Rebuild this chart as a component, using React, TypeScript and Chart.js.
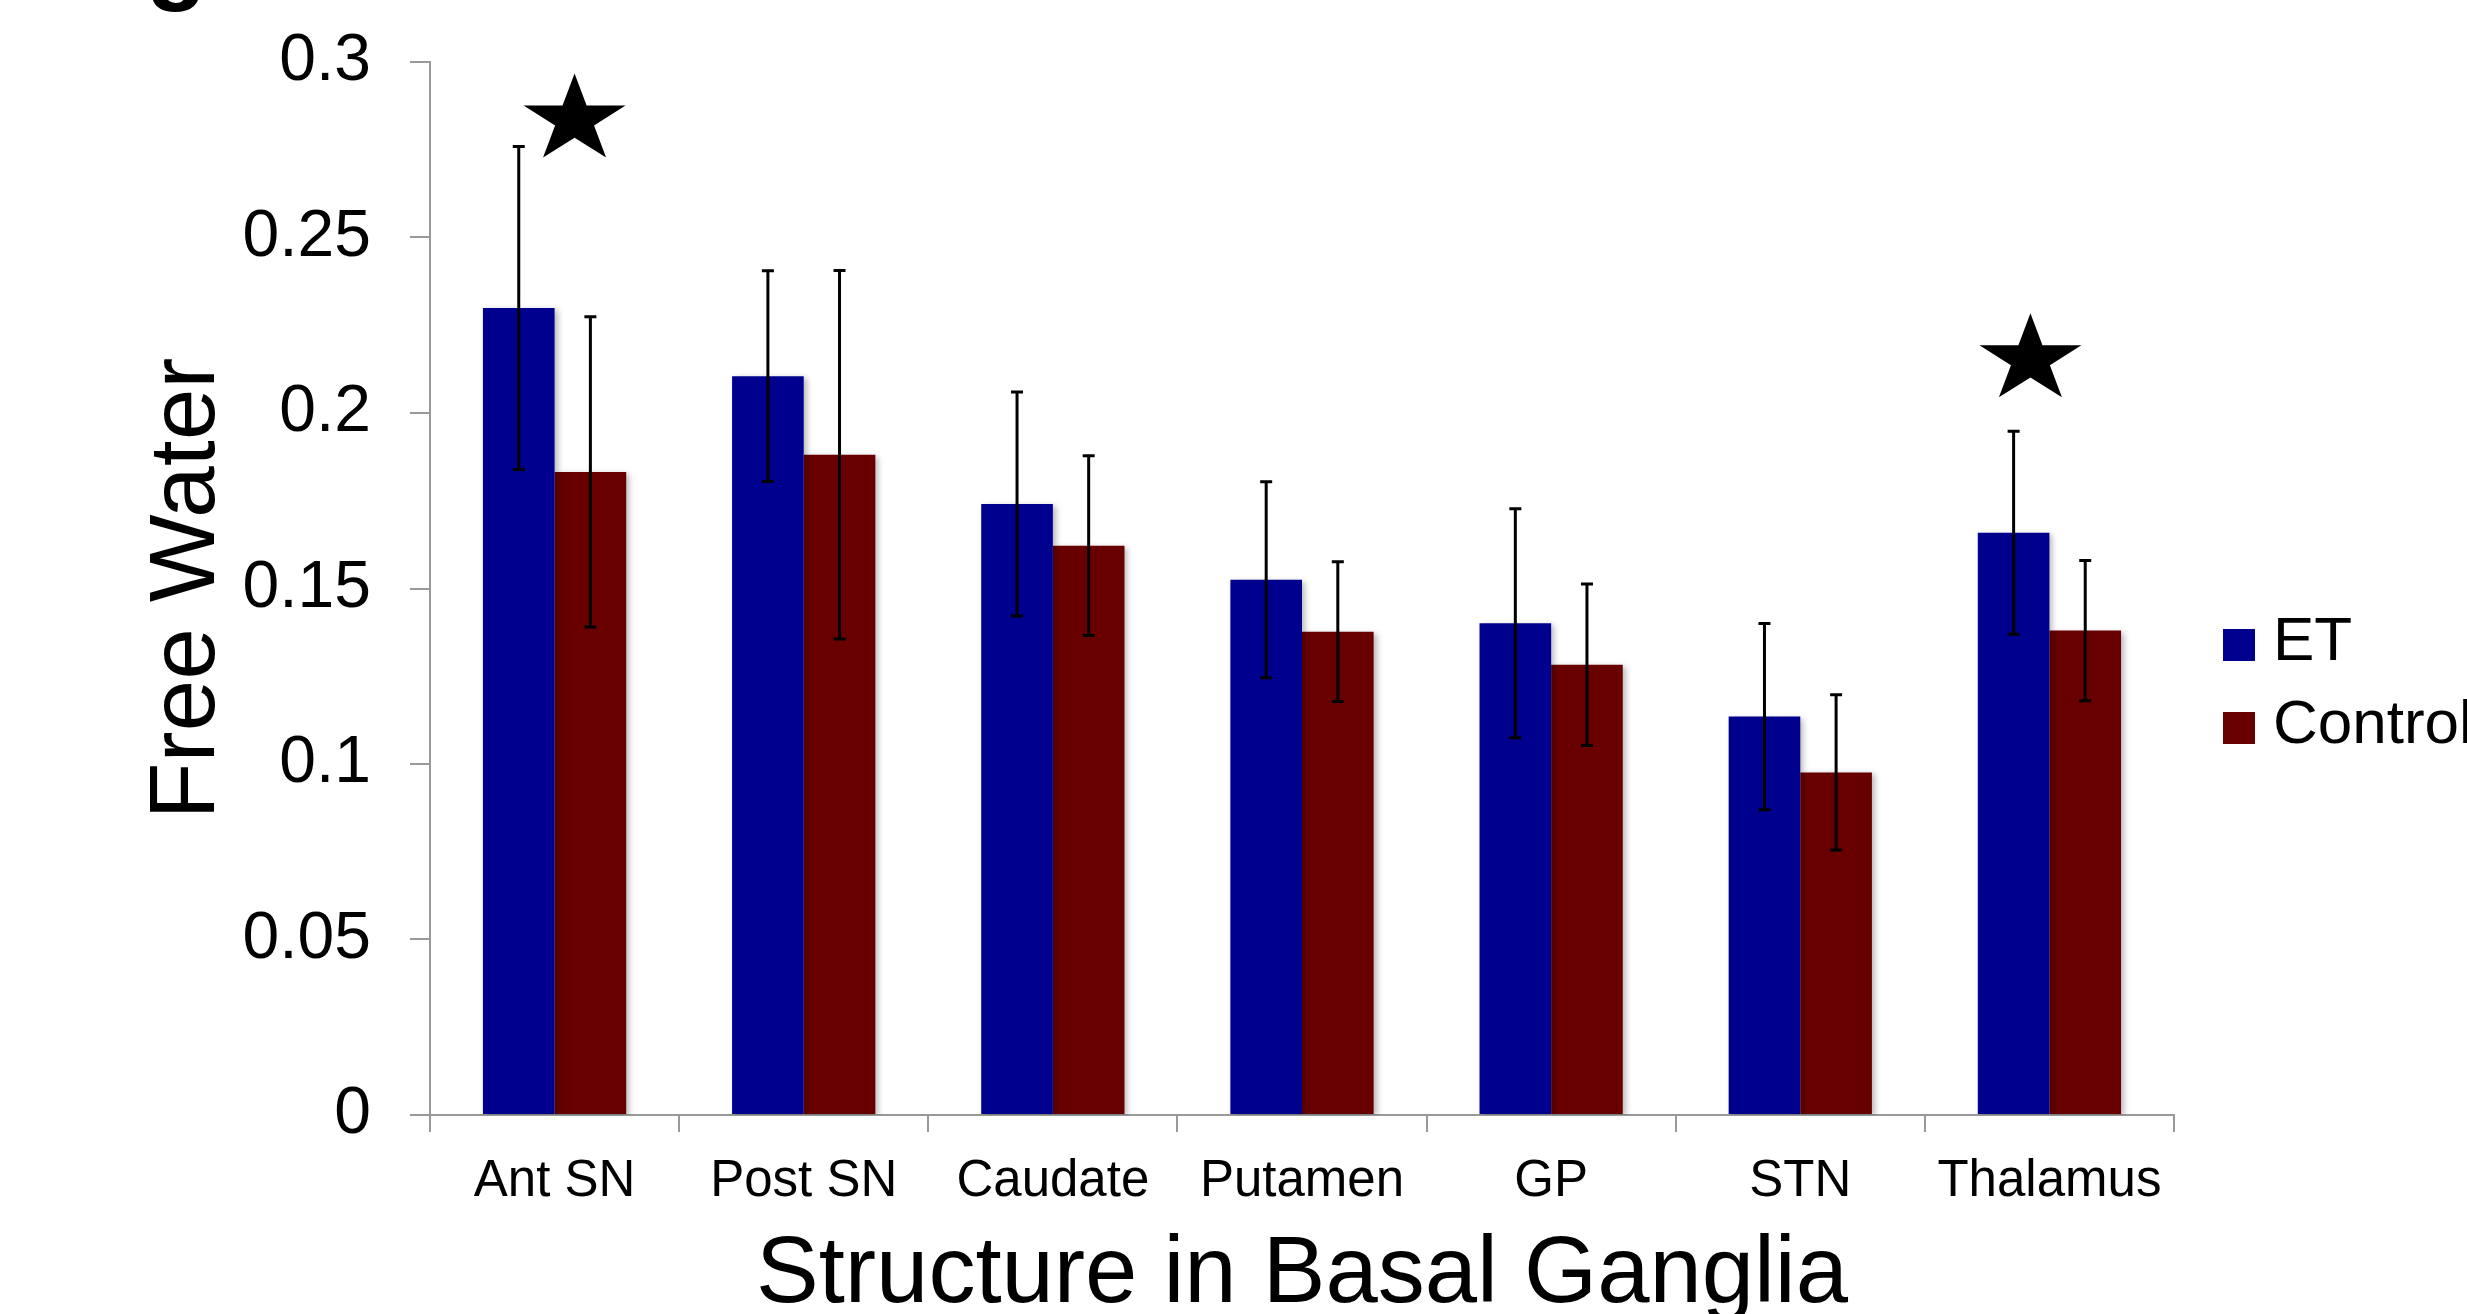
import React, { useEffect, useRef } from 'react';
import { Chart, registerables } from 'chart.js';

Chart.register(...registerables);

const categories = ['Ant SN', 'Post SN', 'Caudate', 'Putamen', 'GP', 'STN', 'Thalamus'];
const seriesLabels = ['ET', 'Control'];
const etMeans = [0.2299, 0.2105, 0.1741, 0.1525, 0.1401, 0.1135, 0.1659];
const etErrors = [0.046, 0.030, 0.0319, 0.0279, 0.0326, 0.0265, 0.0289];
const controlMeans = [0.1832, 0.1881, 0.1622, 0.1377, 0.1283, 0.0976, 0.138];
const controlErrors = [0.0442, 0.0525, 0.0256, 0.0199, 0.023, 0.0221, 0.020];
const yTickValues = [0, 0.05, 0.1, 0.15, 0.2, 0.25, 0.3];
const yTickLabels = ['0', '0.05', '0.1', '0.15', '0.2', '0.25', '0.3'];
const starCategories = ['Ant SN', 'Thalamus'];
const starValues = [0.2835, 0.2152];
const panelLetter = 'g';

const FONT = '"Liberation Sans", Arial, Helvetica, sans-serif';
const ET_COLOR = '#00008e';
const CONTROL_COLOR = '#680000';
const AXIS_COLOR = '#999999';

const shadowPlugin = {
  id: 'barShadow',
  beforeDatasetsDraw(chart: any) {
    const ctx = chart.ctx;
    ctx.save();
    ctx.shadowColor = 'rgba(0,0,0,0.28)';
    ctx.shadowBlur = 6;
    ctx.shadowOffsetX = 3;
    ctx.shadowOffsetY = 2;
  },
  afterDatasetsDraw(chart: any) {
    chart.ctx.restore();
  },
};

const errorBarPlugin = {
  id: 'errorBars',
  afterDatasetsDraw(chart: any, _args: any, opts: any) {
    const ctx = chart.ctx;
    const yScale = chart.scales.y;
    const errs = [etErrors, controlErrors];
    ctx.save();
    ctx.strokeStyle = '#000';
    ctx.lineWidth = opts.lineWidth || 3;
    const cap = opts.capHalf || 6;
    chart.data.datasets.forEach((ds: any, di: number) => {
      const meta = chart.getDatasetMeta(di);
      meta.data.forEach((bar: any, i: number) => {
        const v = ds.data[i];
        const e = errs[di][i];
        const x = bar.x;
        const yTop = yScale.getPixelForValue(v + e);
        const yBot = yScale.getPixelForValue(v - e);
        ctx.beginPath();
        ctx.moveTo(x, yTop);
        ctx.lineTo(x, yBot);
        ctx.moveTo(x - cap, yTop);
        ctx.lineTo(x + cap, yTop);
        ctx.moveTo(x - cap, yBot);
        ctx.lineTo(x + cap, yBot);
        ctx.stroke();
      });
    });
    ctx.restore();
  },
};

const starPlugin = {
  id: 'stars',
  afterDatasetsDraw(chart: any, _args: any, opts: any) {
    const ctx = chart.ctx;
    const xScale = chart.scales.x;
    const yScale = chart.scales.y;
    const rx = opts.rx;
    const ry = opts.ry;
    ctx.save();
    ctx.fillStyle = '#000';
    starCategories.forEach((cat, k) => {
      const idx = categories.indexOf(cat);
      const cx = xScale.getPixelForValue(idx) + opts.dx[k];
      const cy = yScale.getPixelForValue(starValues[k]);
      ctx.beginPath();
      for (let i = 0; i < 10; i++) {
        const a = -Math.PI / 2 + (i * Math.PI) / 5;
        const r = i % 2 === 0 ? 1 : 0.382;
        const px = cx + rx * r * Math.cos(a);
        const py = cy + ry * r * Math.sin(a);
        if (i === 0) ctx.moveTo(px, py);
        else ctx.lineTo(px, py);
      }
      ctx.closePath();
      ctx.fill();
    });
    ctx.restore();
  },
};

const legendPlugin = {
  id: 'customLegend',
  afterDraw(chart: any, _args: any, opts: any) {
    const ctx = chart.ctx;
    ctx.save();
    ctx.font = `${opts.fontSize}px ${FONT}`;
    ctx.textBaseline = 'middle';
    ctx.textAlign = 'left';
    chart.data.datasets.forEach((ds: any, i: number) => {
      const cy = opts.y + i * opts.spacing;
      ctx.fillStyle = ds.backgroundColor;
      ctx.fillRect(opts.x, cy - opts.box / 2, opts.box, opts.box);
      ctx.fillStyle = '#000';
      ctx.fillText(ds.label, opts.textX, cy - 2);
    });
    ctx.restore();
  },
};

const panelPlugin = {
  id: 'panelLetter',
  afterDraw(chart: any, _args: any, opts: any) {
    const ctx = chart.ctx;
    ctx.save();
    ctx.font = `bold ${opts.fontSize}px ${FONT}`;
    ctx.textBaseline = 'alphabetic';
    ctx.textAlign = 'left';
    ctx.fillStyle = '#000';
    ctx.fillText(panelLetter, opts.x, opts.y);
    ctx.restore();
  },
};

export default function App() {
  const canvasRef = useRef<HTMLCanvasElement | null>(null);

  useEffect(() => {
    document.body.style.margin = '0';
    const canvas = canvasRef.current;
    if (!canvas) return;
    const chart = new Chart(canvas, {
      type: 'bar',
      data: {
        labels: categories,
        datasets: [
          {
            label: seriesLabels[0],
            data: etMeans,
            backgroundColor: ET_COLOR,
            borderWidth: 0,
            categoryPercentage: 0.575,
            barPercentage: 1,
          },
          {
            label: seriesLabels[1],
            data: controlMeans,
            backgroundColor: CONTROL_COLOR,
            borderWidth: 0,
            categoryPercentage: 0.575,
            barPercentage: 1,
          },
        ],
      },
      options: {
        animation: false,
        responsive: false,
        devicePixelRatio: 1,
        layout: { padding: { top: 62, right: 293, left: 0, bottom: 0 } },
        plugins: {
          legend: { display: false },
          tooltip: { enabled: false },
          title: { display: false },
          errorBars: { lineWidth: 3, capHalf: 6 },
          stars: { rx: 53.6, ry: 46.5, dx: [20, -19] },
          customLegend: { x: 2223, textX: 2273, y: 645, spacing: 83, box: 32, fontSize: 62 },
          panelLetter: { x: 146, y: -9, fontSize: 100 },
        } as any,
        scales: {
          x: {
            type: 'category',
            offset: true,
            afterFit(scale: any) {
              scale.height = 199;
            },
            grid: {
              display: true,
              offset: true,
              drawOnChartArea: false,
              drawTicks: true,
              tickLength: 17,
              color: AXIS_COLOR,
              lineWidth: 2,
            },
            border: { display: true, color: AXIS_COLOR, width: 2 },
            ticks: {
              color: '#000',
              font: { family: FONT, size: 51 },
              padding: 19,
              maxRotation: 0,
              minRotation: 0,
              autoSkip: false,
            },
            title: {
              display: true,
              text: 'Structure in Basal Ganglia',
              color: '#000',
              font: { family: FONT, size: 94, lineHeight: 0.8 },
              padding: { top: 0, bottom: 0 },
            },
          },
          y: {
            type: 'linear',
            min: 0,
            max: 0.3,
            afterFit(scale: any) {
              scale.width = 430;
              scale.paddingTop = 0;
              scale.paddingBottom = 0;
            },
            afterBuildTicks(scale: any) {
              scale.ticks = yTickValues.map((v) => ({ value: v }));
            },
            grid: {
              display: true,
              drawOnChartArea: false,
              drawTicks: true,
              tickLength: 20,
              color: AXIS_COLOR,
              lineWidth: 2,
            },
            border: { display: true, color: AXIS_COLOR, width: 2 },
            ticks: {
              color: '#000',
              font: { family: FONT, size: 66 },
              padding: 39,
              callback(value: any) {
                const i = yTickValues.findIndex((t) => Math.abs(t - Number(value)) < 1e-9);
                return i >= 0 ? yTickLabels[i] : '';
              },
            },
            title: {
              display: true,
              text: 'Free Water',
              color: '#000',
              font: { family: FONT, size: 93, lineHeight: 1 },
              padding: { top: 142, bottom: 0 },
            },
          },
        },
      } as any,
      plugins: [shadowPlugin, errorBarPlugin, starPlugin, legendPlugin, panelPlugin],
    });
    return () => {
      chart.destroy();
    };
  }, []);

  return (
    <canvas
      ref={canvasRef}
      width={2467}
      height={1314}
      style={{ display: 'block', width: '2467px', height: '1314px' }}
    />
  );
}
